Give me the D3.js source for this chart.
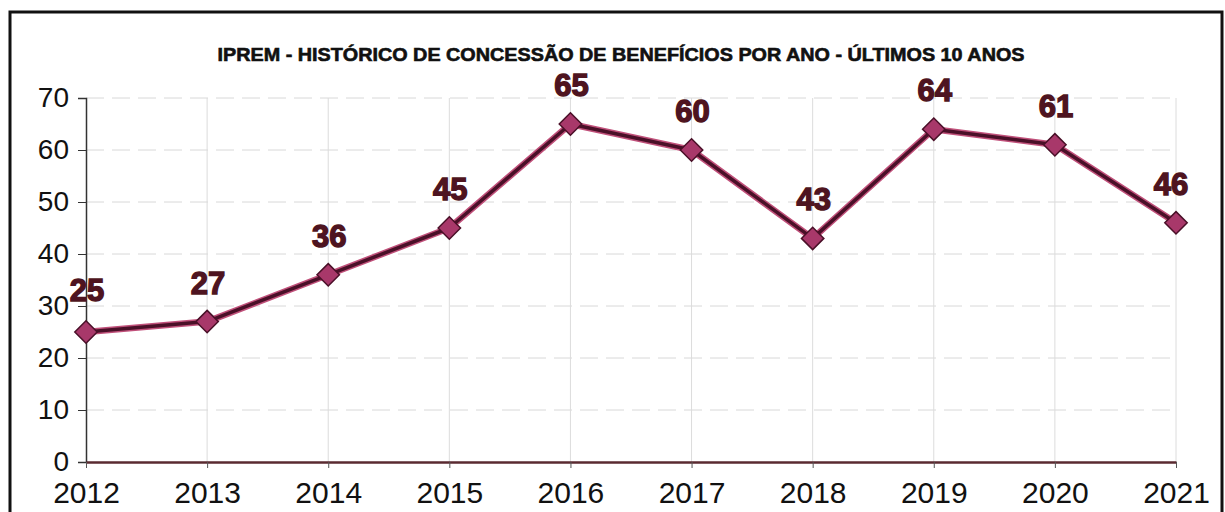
<!DOCTYPE html>
<html><head><meta charset="utf-8">
<script src="https://cdn.jsdelivr.net/npm/d3@7"></script>
<style>body{margin:0;background:#fff;}svg{display:block;}</style>
</head><body>
<svg id="c" width="1225" height="512"></svg>
<script>
const years = ["2012","2013","2014","2015","2016","2017","2018","2019","2020","2021"];
const values = [25,27,36,45,65,60,43,64,61,46];
const yTicks = [0,10,20,30,40,50,60,70];
const title = "IPREM - HISTÓRICO DE CONCESSÃO DE BENEFÍCIOS POR ANO - ÚLTIMOS 10 ANOS";

const svg = d3.select("#c");
// frame
svg.append("rect").attr("x",10).attr("y",12).attr("width",1212).attr("height",520)
  .attr("fill","#fff").attr("stroke","#111").attr("stroke-width",3);

const x = d3.scalePoint().domain(years).range([86,1176]);
const y = d3.scaleLinear().domain([0,70]).range([462,98]);

// grid
svg.append("g").selectAll("line").data(yTicks.filter(d=>d>0)).join("line")
  .attr("x1",86).attr("x2",1176).attr("y1",d=>y(d)).attr("y2",d=>y(d))
  .attr("stroke","#d8d8d8").attr("stroke-width",1).attr("stroke-dasharray","18,8");
svg.append("g").selectAll("line").data(years.slice(1)).join("line")
  .attr("x1",d=>x(d)).attr("x2",d=>x(d)).attr("y1",y(70)).attr("y2",y(0))
  .attr("stroke","#dcdcdc").attr("stroke-width",1);

// axes
const yAxis = svg.append("g").attr("transform","translate(86,0)")
  .call(d3.axisLeft(y).tickValues(yTicks).tickSize(8).tickPadding(9));
yAxis.select(".domain").attr("stroke","#333").attr("stroke-width",1.5);
yAxis.selectAll(".tick line").attr("stroke","#333");
yAxis.selectAll("text").attr("font-family","Liberation Sans, Arial, sans-serif")
  .attr("font-size",28).attr("fill","#111");

const xAxis = svg.append("g").attr("transform","translate(0,462)")
  .call(d3.axisBottom(x).tickSize(6).tickPadding(14).tickSizeOuter(0));
xAxis.select(".domain").attr("stroke","#5a2a30").attr("stroke-width",2.5);
xAxis.selectAll(".tick line").attr("stroke","#555");
xAxis.selectAll("text").attr("font-family","Liberation Sans, Arial, sans-serif")
  .attr("font-size",30).attr("fill","#111");

// title
svg.append("text").attr("x",621).attr("y",61).attr("text-anchor","middle")
  .attr("font-family","Liberation Sans, Arial, sans-serif").attr("font-weight","bold")
  .attr("font-size",18).attr("textLength",807).attr("lengthAdjust","spacingAndGlyphs")
  .attr("fill","#111").attr("stroke","#111").attr("stroke-width",0.6)
  .text(title);

const pts = years.map((d,i)=>({year:d,value:values[i]}));

// line
const line = d3.line().x(d=>x(d.year)).y(d=>y(d.value));
svg.append("path").datum(pts).attr("d",line).attr("fill","none")
  .attr("stroke","#c0507a").attr("stroke-width",6.5).attr("stroke-linejoin","round");
svg.append("path").datum(pts).attr("d",line).attr("fill","none")
  .attr("stroke","#4a1028").attr("stroke-width",3.5).attr("stroke-linejoin","round");

// markers
svg.append("g").selectAll("path").data(pts).join("path")
  .attr("transform",d=>`translate(${x(d.year)},${y(d.value)})`)
  .attr("d",d3.symbol().type(d3.symbolDiamond2).size(320))
  .attr("fill","#a8386a").attr("stroke","#4a1028").attr("stroke-width",1.5);

// labels
svg.append("g").selectAll("text").data(pts).join("text")
  .attr("x",(d,i)=> i===pts.length-1 ? x(d.year)-5 : x(d.year)+1)
  .attr("y",(d,i)=> y(d.value)-(i===0 ? 31 : 28))
  .attr("text-anchor","middle")
  .attr("font-family","Liberation Sans, Arial, sans-serif").attr("font-weight","bold")
  .attr("font-size",31).attr("fill","#4e1420").attr("stroke","#4e1420").attr("stroke-width",1.4)
  .text(d=>d.value);
</script>
</body></html>
